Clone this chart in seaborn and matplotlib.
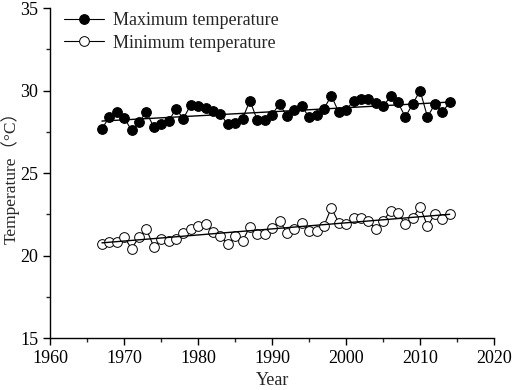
import numpy as np
import pandas as pd
import matplotlib
matplotlib.use("Agg")
import matplotlib.pyplot as plt
from matplotlib.ticker import MultipleLocator
import seaborn as sns

years = list(range(1967, 2015))
t_max = [27.7, 28.4, 28.7, 28.35, 27.6, 28.1, 28.7, 27.8, 28.0, 28.15,
         28.9, 28.3, 29.15, 29.05, 28.95, 28.75, 28.6, 27.95, 28.05, 28.3,
         29.4, 28.2, 28.2, 28.55, 29.2, 28.45, 28.8, 29.05, 28.4, 28.55,
         28.9, 29.7, 28.7, 28.8, 29.4, 29.5, 29.5, 29.25, 29.05, 29.65,
         29.3, 28.4, 29.2, 30.0, 28.4, 29.2, 28.7, 29.3]
t_min = [20.7, 20.8, 20.8, 21.15, 20.4, 21.15, 21.6, 20.55, 21.0, 20.9,
         21.0, 21.35, 21.6, 21.8, 21.9, 21.45, 21.2, 20.7, 21.2, 20.9,
         21.75, 21.3, 21.3, 21.7, 22.1, 21.4, 21.6, 22.0, 21.5, 21.5,
         21.8, 22.9, 22.0, 21.9, 22.3, 22.3, 22.1, 21.6, 22.1, 22.7,
         22.6, 21.9, 22.3, 22.95, 21.8, 22.5, 22.2, 22.5]

df = pd.DataFrame({"year": years, "tmax": t_max, "tmin": t_min})

sns.set_style("ticks")
plt.rcParams["font.family"] = ["Liberation Serif", "Noto Sans CJK SC"]
plt.rcParams["xtick.direction"] = "out"
plt.rcParams["ytick.direction"] = "out"

fig = plt.figure(figsize=(5.12, 3.9), dpi=100)
ax = fig.add_axes([0.098, 0.133, 0.867, 0.846])

sns.lineplot(ax=ax, data=df, x="year", y="tmax", color="black", lw=0.8,
             marker="o", markersize=7, markerfacecolor="black",
             markeredgecolor="black", label="Maximum temperature")
sns.lineplot(ax=ax, data=df, x="year", y="tmin", color="black", lw=0.8,
             marker="o", markersize=7, markerfacecolor="white",
             markeredgecolor="black", markeredgewidth=0.7,
             label="Minimum temperature")
sns.regplot(ax=ax, data=df, x="year", y="tmax", scatter=False, ci=None,
            truncate=True, line_kws=dict(color="black", lw=1.0))
sns.regplot(ax=ax, data=df, x="year", y="tmin", scatter=False, ci=None,
            truncate=True, line_kws=dict(color="black", lw=1.0))

ax.set_xlim(1960, 2020)
ax.set_ylim(15, 35)
ax.xaxis.set_major_locator(MultipleLocator(10))
ax.xaxis.set_minor_locator(MultipleLocator(5))
ax.yaxis.set_major_locator(MultipleLocator(5))
ax.yaxis.set_minor_locator(MultipleLocator(2.5))
ax.tick_params(which="major", length=5, width=1, labelsize=13, colors="black")
ax.tick_params(which="minor", length=3, width=1)
for s in ["left", "bottom"]:
    ax.spines[s].set_linewidth(1.0)
    ax.spines[s].set_color("black")
sns.despine(ax=ax)

ax.set_xlabel("Year", fontsize=13)
ax.set_ylabel("Temperature（°C）", fontsize=12.5)
ax.yaxis.label.set_va("center")
ax.yaxis.set_label_coords(-0.09, 0.5)

ax.legend(loc="upper left", frameon=False, fontsize=13, handlelength=2.2,
          borderaxespad=0.0, labelspacing=0.3, handletextpad=0.5,
          bbox_to_anchor=(0.015, 1.01))

fig.savefig("out.png", dpi=100)
